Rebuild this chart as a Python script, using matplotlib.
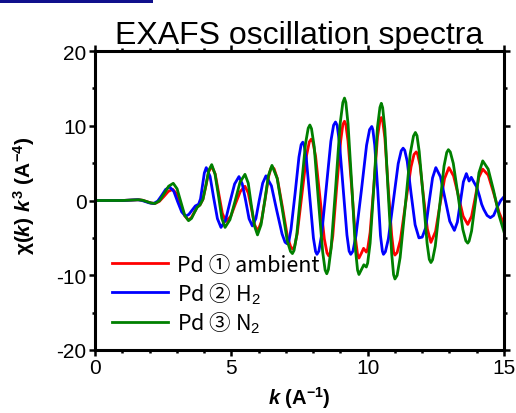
import matplotlib
matplotlib.use("Agg")
import matplotlib.pyplot as plt
from matplotlib.patches import Rectangle
from matplotlib.ticker import MultipleLocator

plt.rcParams['font.family'] = ['Liberation Sans', 'DejaVu Sans', 'Noto Sans CJK JP']
plt.rcParams['mathtext.fontset'] = 'custom'
plt.rcParams['mathtext.rm'] = 'Liberation Sans'
plt.rcParams['mathtext.it'] = 'Liberation Sans:italic:bold'
plt.rcParams['mathtext.bf'] = 'Liberation Sans:bold'
plt.rcParams['axes.unicode_minus'] = False

# ---- data (k in A^-1, chi(k) k^3) ----
k_ambient = [0.0, 1.0, 1.6, 1.75, 1.9, 2.05, 2.2, 2.36, 2.53, 2.69, 2.85, 2.99, 3.14, 3.28, 3.42,
             3.53, 3.64, 3.74, 3.85, 3.96, 4.07, 4.17, 4.28, 4.41, 4.54, 4.67, 4.8, 4.98, 5.15,
             5.33, 5.5, 5.62, 5.74, 5.85, 5.97, 6.1, 6.24, 6.37, 6.45, 6.5, 6.57, 6.69, 6.88,
             7.06, 7.18, 7.25, 7.32, 7.42, 7.59, 7.76, 7.86, 7.93, 7.99, 8.09, 8.25, 8.41, 8.51,
             8.57, 8.63, 8.72, 8.86, 9.01, 9.09, 9.15, 9.2, 9.28, 9.42, 9.55, 9.63, 9.68, 9.77,
             9.85, 9.95, 10.0, 10.09, 10.23, 10.36, 10.45, 10.5, 10.55, 10.63, 10.75, 10.88,
             10.95, 11.0, 11.08, 11.2, 11.39, 11.59, 11.7, 11.78, 11.83, 11.92, 12.05, 12.19,
             12.32, 12.49, 12.65, 12.82, 12.98, 13.15, 13.33, 13.5, 13.67, 13.81, 13.95, 14.08,
             14.22, 14.42, 14.62, 14.82, 15.0]
chi_ambient = [0.0, 0.0, 0.1, 0.03, -0.15, -0.33, -0.4, -0.12, 0.55, 1.22, 1.5, 0.9, -0.55, -2.0,
               -2.6, -2.31, -1.6, -0.89, -0.6, 0.16, 2.0, 3.84, 4.6, 3.52, 0.9, -1.72, -2.8, -2.11,
               -0.45, 1.21, 1.9, 1.02, -1.1, -3.22, -4.1, -2.84, 0.2, 3.24, 4.29, 4.5, 4.23, 2.89,
               -1.0, -4.89, -6.23, -6.5, -6.14, -4.35, 0.85, 6.05, 7.84, 8.2, 7.82, 5.92, 0.4,
               -5.12, -7.02, -7.4, -6.96, -4.77, 1.6, 7.97, 10.16, 10.6, 10.15, 7.93, 1.45, -5.03,
               -7.25, -7.7, -7.05, -6.4, -6.9, -6.46, -4.27, 2.1, 8.47, 10.66, 11.1, 10.65, 8.41,
               1.9, -4.61, -6.85, -7.3, -6.96, -5.29, -0.4, 4.49, 6.16, 6.5, 6.2, 4.73, 0.45,
               -3.83, -5.6, -4.14, -0.6, 2.94, 4.4, 3.29, 0.6, -2.09, -3.2, -2.12, 0.5, 3.12, 4.2,
               3.4, 1.0, -1.6, -3.2]

k_h2 = [0.0, 1.0, 1.55, 1.7, 1.85, 2.0, 2.15, 2.3, 2.45, 2.59, 2.74, 2.89, 3.03, 3.18, 3.32, 3.44,
        3.56, 3.68, 3.8, 3.87, 3.94, 4.01, 4.08, 4.22, 4.35, 4.49, 4.62, 4.79, 4.95, 5.12, 5.28,
        5.4, 5.53, 5.65, 5.77, 5.9, 6.02, 6.15, 6.27, 6.47, 6.66, 6.86, 6.97, 7.05, 7.11, 7.19,
        7.34, 7.48, 7.56, 7.62, 7.67, 7.75, 7.88, 8.01, 8.09, 8.14, 8.21, 8.31, 8.48, 8.65, 8.75,
        8.82, 8.88, 8.96, 9.1, 9.24, 9.32, 9.38, 9.46, 9.57, 9.77, 9.96, 10.07, 10.15, 10.19,
        10.26, 10.37, 10.47, 10.54, 10.58, 10.65, 10.76, 10.94, 11.12, 11.23, 11.3, 11.36,
        11.45, 11.59, 11.74, 11.88, 12.0, 12.13, 12.25, 12.38, 12.5, 12.67, 12.84, 13.01,
        13.18, 13.29, 13.4, 13.51, 13.62, 13.72, 13.8, 13.92, 14.0, 14.1, 14.18, 14.26, 14.38,
        14.5, 14.62, 14.75, 14.88, 15.0]
chi_h2 = [0.0, 0.0, 0.1, 0.03, -0.15, -0.33, -0.4, -0.08, 0.7, 1.48, 1.8, 1.23, -0.15, -1.53,
          -2.1, -1.87, -1.3, -0.73, -0.5, 0.22, 1.95, 3.68, 4.4, 3.23, 0.4, -2.43, -3.6, -2.61,
          -0.2, 2.21, 3.2, 2.24, -0.1, -2.44, -3.4, -2.42, -0.05, 2.32, 3.3, 1.97, -1.25, -4.47,
          -5.58, -5.8, -5.47, -3.81, 1.0, 5.81, 7.47, 7.8, 7.43, 5.61, 0.3, -5.01, -6.83, -7.2,
          -6.77, -4.62, 1.65, 7.92, 10.07, 10.5, 10.07, 7.92, 1.65, -4.62, -6.77, -7.2, -6.78,
          -4.7, 1.35, 7.4, 9.48, 9.9, 9.48, 7.4, 1.35, -4.7, -6.78, -7.2, -6.85, -5.13, -0.1,
          4.93, 6.65, 7.0, 6.71, 5.25, 1.0, -3.25, -5.0, -4.9, -3.63, -0.3, 3.03, 4.4, 3.17, 0.2,
          -2.77, -4.0, -2.89, -0.2, 2.49, 3.6, 2.6, 3.1, 2.3, 1.8, 0.6, -0.5, -1.2, -2.0, -2.3,
          -2.0, -0.9, 0.0, 0.5]

k_n2 = [0.0, 1.0, 1.6, 1.75, 1.9, 2.05, 2.2, 2.37, 2.54, 2.7, 2.87, 3.01, 3.15, 3.29, 3.43, 3.54,
        3.64, 3.75, 3.85, 3.96, 4.07, 4.17, 4.28, 4.4, 4.53, 4.65, 4.77, 4.95, 5.14, 5.32, 5.5,
        5.62, 5.73, 5.85, 5.96, 6.09, 6.23, 6.36, 6.49, 6.68, 6.87, 7.05, 7.17, 7.24, 7.3, 7.4,
        7.56, 7.72, 7.82, 7.88, 7.94, 8.04, 8.19, 8.35, 8.44, 8.5, 8.56, 8.66, 8.83, 8.99, 9.09,
        9.15, 9.2, 9.28, 9.42, 9.55, 9.63, 9.68, 9.77, 9.86, 9.95, 10.0, 10.09, 10.23, 10.36,
        10.45, 10.5, 10.55, 10.63, 10.75, 10.88, 10.95, 11.0, 11.08, 11.19, 11.38, 11.56, 11.68,
        11.75, 11.81, 11.89, 12.04, 12.18, 12.26, 12.32, 12.38, 12.48, 12.64, 12.8, 12.9, 12.96,
        13.03, 13.14, 13.32, 13.49, 13.6, 13.67, 13.72, 13.81, 13.95, 14.08, 14.22, 14.42,
        14.62, 14.82, 15.0]
chi_n2 = [0.0, 0.0, 0.1, 0.03, -0.15, -0.33, -0.4, -0.01, 0.95, 1.91, 2.3, 1.57, -0.2, -1.97,
          -2.7, -2.39, -1.65, -0.91, -0.6, 0.19, 2.1, 4.01, 4.8, 3.57, 0.6, -2.37, -3.6, -2.56,
          -0.05, 2.46, 3.5, 2.32, -0.55, -3.42, -4.6, -3.24, 0.05, 3.34, 4.7, 2.98, -1.2, -5.38,
          -6.81, -7.1, -6.68, -4.59, 1.5, 7.59, 9.68, 10.1, 9.61, 7.19, 0.15, -6.89, -9.31, -9.8,
          -9.22, -6.37, 1.95, 10.27, 13.12, 13.7, 13.12, 10.25, 1.9, -6.45, -9.32, -9.9, -9.25,
          -8.6, -8.9, -8.36, -5.7, 2.05, 9.8, 12.46, 13.0, 12.42, 9.57, 1.25, -7.07, -9.92,
          -10.5, -10.02, -7.64, -0.7, 6.24, 8.62, 9.1, 8.67, 6.56, 0.4, -5.76, -7.87, -8.3,
          -7.93, -6.1, -0.75, 4.6, 6.43, 6.8, 6.49, 4.97, 0.55, -3.87, -5.39, -5.7, -5.43,
          -4.09, -0.2, 3.69, 5.3, 4.2, 1.3, -2.0, -4.2]

labels = ['Pd \u2460 ambient', 'Pd \u2461 H$_2$', 'Pd \u2462 N$_2$']
colors = ['#ff0000', '#0000ff', '#008000']
x_ticks = [0, 5, 10, 15]
y_ticks = [-20, -10, 0, 10, 20]

fig = plt.figure(figsize=(5.16, 4.14), dpi=100)
fig.patches.append(Rectangle((0, 1 - 4 / 414), 153 / 516, 4 / 414, transform=fig.transFigure,
                             facecolor='#10108c', edgecolor='none'))
ax = fig.add_axes([95 / 516, 1 - 351 / 414, (504 - 95) / 516, (351 - 52) / 414])

series = [(k_ambient, chi_ambient), (k_h2, chi_h2), (k_n2, chi_n2)]
for (kk, cc), lab, col in zip(series, labels, colors):
    ax.plot(kk, cc, color=col, lw=2.0, label=lab, solid_joinstyle='round')

ax.set_xlim(0, 15)
ax.set_ylim(-20, 20)
ax.set_xticks(x_ticks)
ax.set_yticks(y_ticks)
ax.xaxis.set_minor_locator(MultipleLocator(1))
ax.yaxis.set_minor_locator(MultipleLocator(5))
ax.tick_params(which='both', direction='out', top=True, right=True, labeltop=False,
               labelright=False, labelsize=15, width=1.8, pad=2)
ax.tick_params(which='major', length=4)
ax.tick_params(which='minor', length=2.5)
for s in ax.spines.values():
    s.set_linewidth(2.2)

ax.set_title('EXAFS oscillation spectra', fontsize=23, pad=6)
ax.set_xlabel('$\\mathit{k}$ (A$^{\\mathbf{-1}}$)', fontsize=14.5, fontweight='bold')
ax.xaxis.set_label_coords(0.5, -0.115)
ax.set_ylabel('\u03c7($\\mathit{k}$) $\\mathit{k}^{\\mathbf{3}}$ (A$^{\\mathbf{-4}}$)', fontsize=15,
              fontweight='bold')
ax.yaxis.set_label_coords(-0.142, 0.52)

leg = ax.legend(loc='lower left', bbox_to_anchor=(0.02, 0.02), frameon=False,
                prop={'family': ['Noto Sans CJK JP', 'DejaVu Sans'], 'size': 15.5},
                handlelength=2.6, handletextpad=0.45, labelspacing=0.2, borderaxespad=0.0)

fig.savefig('out.png', dpi=100)
